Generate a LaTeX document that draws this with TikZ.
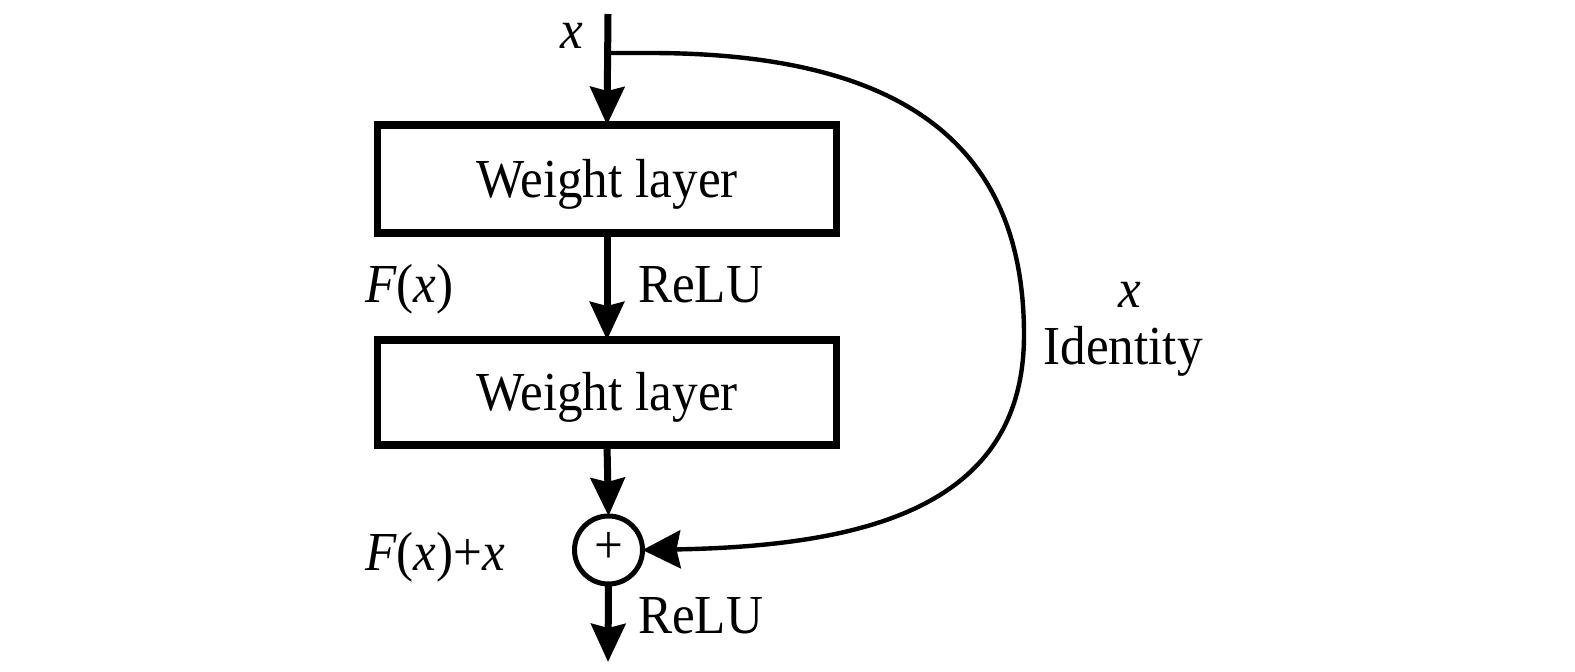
\documentclass[tikz,border=0pt]{standalone}
\usepackage{fontspec}
\setmainfont{Liberation Serif}[FakeStretch=0.93]
\usetikzlibrary{arrows.meta}
\begin{document}
\begin{tikzpicture}[x=0.5pt,y=-0.5pt,
  every node/.style={font=\fontsize{27.5}{32}\selectfont, inner sep=0pt, outer sep=0pt},
  layerbox/.style={draw, line width=3.7pt, minimum width=229.5pt, text height=18pt, text depth=0pt},
  sumnode/.style={draw, circle, line width=2.5pt, minimum size=34pt},
  arr/.style={line width=3.5pt, -{Stealth[length=19pt,width=17pt,inset=2pt]}},
  skip/.style={line width=2.2pt, -{Stealth[length=19pt,width=19pt,inset=2pt]}},
  lbl/.style={anchor=base}
]
\useasboundingbox (0,0) rectangle (1575,671);
\fill[white] (0,0) rectangle (1575,671);
\coordinate (top) at (608,14);
\coordinate (branch) at (608,53);
\coordinate (out) at (608,662);
\node[layerbox, minimum height=54pt] (b1) at (607,179) {Weight layer};
\node[layerbox, minimum height=52.5pt] (b2) at (607,392.5) {Weight layer};
\node[sumnode] (plus) at (608.5,550) {};
\node (plustxt) at (608.5,548) {+};
\draw[arr] (top) -- (b1.north);
\draw[arr] (b1.south) -- (b2.north);
\draw[arr] (b2.south) -- (plus.north);
\draw[arr] (plus.south) -- (out);
\draw[skip] (branch) -- (650,53) .. controls (910,53) and (1024,150) .. (1024,335)
  .. controls (1024,505) and (870,546) .. (plus.east);
\node[lbl] (xin) at (572,48) {\textit{x}};
\node[lbl, anchor=base west] (relu1) at (638,302) {ReLU};
\node[lbl, anchor=base west] (fx) at (365,302) {\textit{F}(\textit{x})};
\node[lbl, anchor=base west] (fxx) at (365,570) {\textit{F}(\textit{x})+\textit{x}};
\node[lbl, anchor=base west] (relu2) at (638,633) {ReLU};
\node[lbl] (xid) at (1130,307) {\textit{x}};
\node[lbl] (ident) at (1123,364) {Identity};
\end{tikzpicture}
\end{document}
